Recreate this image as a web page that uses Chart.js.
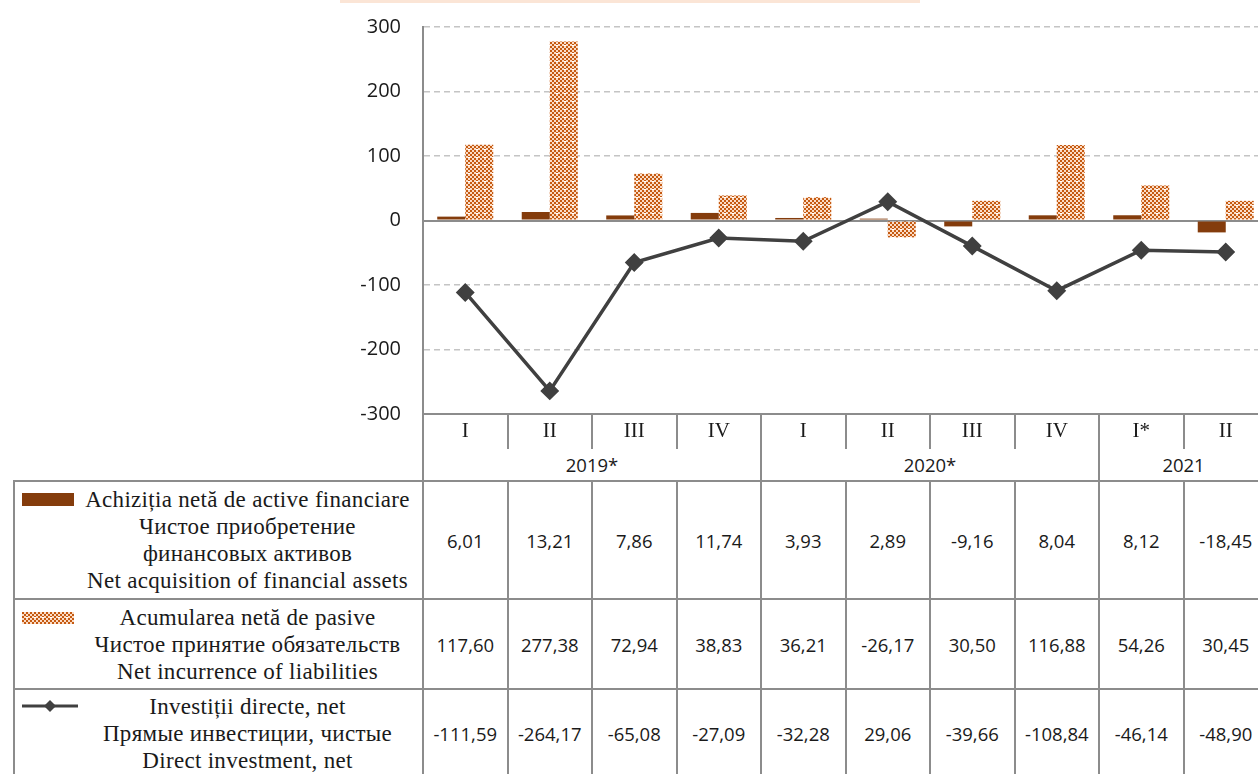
<!DOCTYPE html>
<html>
<head>
<meta charset="utf-8">
<script src="https://cdn.jsdelivr.net/npm/chart.js@4.4.0/dist/chart.umd.min.js"></script>
<style>
  body { margin: 0; width: 1258px; height: 774px; overflow: hidden; position: relative; background: #fff; }
  #band { position: absolute; left: 340px; top: 0; width: 580px; height: 3px; background: #fbe5d6; }
  #chart { position: absolute; left: 0; top: 0; }
  #dataTable { position: absolute; left: 13px; top: 449px; border-collapse: collapse; table-layout: fixed;
    font-family: "Open Sans", sans-serif; font-size: 18.5px; color: #1a1a1a; }
  #dataTable td { border: 2px solid #8c8c8c; text-align: center; vertical-align: middle; padding: 0; white-space: nowrap; }
  #dataTable tr.years td { border-top: none; height: 31px; font-size: 18.5px; }
  #dataTable tr.years td.blank { border: none; border-right: 2px solid #8c8c8c; }
  #dataTable td.name { position: relative; font-family: "Liberation Serif", serif; font-size: 23px; line-height: 27px; letter-spacing: 0.3px; }
  #dataTable td.name .txt { padding: 0 4px 0 62px; }
  #dataTable td.name .sw { position: absolute; left: 7px; }
</style>
</head>
<body>
<div id="band"></div>
<canvas id="chart" width="1268" height="449"></canvas>
<table id="dataTable"></table>
<script>
// --- Data ---
const quarters = ["I", "II", "III", "IV", "I", "II", "III", "IV", "I*", "II"];
const years = ["2019*", "2020*", "2021"];
const yearSpans = [4, 4, 2];
const acquisition = [6.01, 13.21, 7.86, 11.74, 3.93, 2.89, -9.16, 8.04, 8.12, -18.45];
const liabilities = [117.60, 277.38, 72.94, 38.83, 36.21, -26.17, 30.50, 116.88, 54.26, 30.45];
const directInvestment = [-111.59, -264.17, -65.08, -27.09, -32.28, 29.06, -39.66, -108.84, -46.14, -48.90];
const acquisitionName = ["Achiziția netă de active financiare", "Чистое приобретение", "финансовых активов", "Net acquisition of financial assets"];
const liabilitiesName = ["Acumularea netă de pasive", "Чистое принятие обязательств", "Net incurrence of liabilities"];
const investmentName = ["Investiții directe, net", "Прямые инвестиции, чистые", "Direct investment, net"];
const yTicks = [-300, -200, -100, 0, 100, 200, 300];

const DARK = "#843c0c";
const LINE = "#404040";
const AXIS = "#8c8c8c";

// --- Checker pattern for liabilities ---
function makePattern(ctx) {
  const tile = document.createElement("canvas");
  tile.width = 8;
  tile.height = 8;
  const g = tile.getContext("2d");
  g.fillStyle = "#fbdcc6";
  g.fillRect(0, 0, 8, 8);
  g.fillStyle = "#c55a11";
  for (let y = 0; y < 8; y += 2) {
    for (let x = 0; x < 8; x += 2) {
      if (((x + y) / 2) % 2 === 0) g.fillRect(x, y, 2, 2);
    }
  }
  g.fillStyle = "#ffffff";
  g.fillRect(4, 5, 2, 1);
  return ctx.createPattern(tile, "repeat");
}

const ctx = document.getElementById("chart").getContext("2d");
const pattern = makePattern(ctx);

const chart = new Chart(ctx, {
  data: {
    labels: quarters,
    datasets: [
      {
        type: "line",
        label: investmentName[2],
        data: directInvestment,
        borderColor: LINE,
        borderWidth: 3.5,
        pointStyle: "rectRot",
        pointRadius: 7,
        pointBackgroundColor: LINE,
        pointBorderColor: LINE,
        tension: 0,
        order: 0,
      },
      {
        type: "bar",
        label: acquisitionName[3],
        data: acquisition,
        backgroundColor: DARK,
        categoryPercentage: 0.663,
        barPercentage: 1,
        order: 1,
      },
      {
        type: "bar",
        label: liabilitiesName[2],
        data: liabilities,
        backgroundColor: pattern,
        categoryPercentage: 0.663,
        barPercentage: 1,
        order: 1,
      },
    ],
  },
  options: {
    responsive: false,
    animation: false,
    layout: { autoPadding: false, padding: { top: 27, left: 0, right: 0, bottom: 0 } },
    plugins: { legend: { display: false }, tooltip: { enabled: false } },
    scales: {
      x: {
        type: "category",
        offset: true,
        grid: { drawOnChartArea: false, drawTicks: true, tickLength: 35, color: AXIS, lineWidth: 2 },
        border: { display: true, color: AXIS, width: 2 },
        ticks: {
          font: { family: "Liberation Serif", size: 21 },
          color: "#1a1a1a",
          padding: -30,
          maxRotation: 0,
          autoSkip: false,
        },
        afterFit: (s) => { s.height = 35; },
      },
      y: {
        min: yTicks[0],
        max: yTicks[yTicks.length - 1],
        afterBuildTicks: (s) => { s.ticks = yTicks.map((v) => ({ value: v })); },
        grid: {
          drawTicks: false,
          color: (c) => (c.tick && c.tick.value === 0 ? AXIS : "#c4c4c4"),
          lineWidth: (c) => (c.tick && c.tick.value === 0 ? 2 : 1.5),
        },
        border: {
          display: true,
          color: AXIS,
          width: 2,
          dash: (c) => (c.tick && c.tick.value !== 0 ? [6, 4] : []),
        },
        ticks: {
          font: { family: "Open Sans", size: 20 },
          color: "#1a1a1a",
          padding: 22,
        },
        afterFit: (s) => {
          s.width = 423;
          s.paddingTop = 12;
          s.paddingBottom = 12;
        },
      },
    },
  },
});

// --- Data table below the chart, aligned to the x scale ---
function fmt(v) {
  return v.toFixed(2).replace(".", ",");
}

function swatch(kind) {
  const c = document.createElement("canvas");
  c.className = "sw";
  if (kind === "dark") {
    c.width = 52; c.height = 13;
    const g = c.getContext("2d");
    g.fillStyle = DARK;
    g.fillRect(0, 0, 52, 13);
  } else if (kind === "pattern") {
    c.width = 52; c.height = 12;
    const g = c.getContext("2d");
    g.fillStyle = makePattern(g);
    g.fillRect(0, 0, 52, 12);
  } else {
    c.width = 56; c.height = 14;
    const g = c.getContext("2d");
    g.strokeStyle = LINE;
    g.lineWidth = 3;
    g.beginPath();
    g.moveTo(0, 7); g.lineTo(56, 7);
    g.stroke();
    g.fillStyle = LINE;
    g.beginPath();
    g.moveTo(28, 1); g.lineTo(34, 7); g.lineTo(28, 13); g.lineTo(22, 7);
    g.closePath();
    g.fill();
  }
  return c;
}

function buildTable() {
  const x = chart.scales.x;
  const colW = (x.right - x.left) / quarters.length;
  const table = document.getElementById("dataTable");
  const cg = document.createElement("colgroup");
  const first = document.createElement("col");
  first.style.width = (x.left - 14) + "px";
  cg.appendChild(first);
  quarters.forEach(() => {
    const col = document.createElement("col");
    col.style.width = colW + "px";
    cg.appendChild(col);
  });
  table.appendChild(cg);
  table.style.width = (x.right - 14) + "px";

  const yr = document.createElement("tr");
  yr.className = "years";
  const blank = document.createElement("td");
  blank.className = "blank";
  yr.appendChild(blank);
  years.forEach((y, i) => {
    const td = document.createElement("td");
    td.colSpan = yearSpans[i];
    td.textContent = y;
    yr.appendChild(td);
  });
  table.appendChild(yr);

  const rows = [
    { name: acquisitionName, values: acquisition, kind: "dark", h: 116, swTop: 7 },
    { name: liabilitiesName, values: liabilities, kind: "pattern", h: 88, swTop: 8 },
    { name: investmentName, values: directInvestment, kind: "line", h: 86, swTop: 6 },
  ];
  rows.forEach((r) => {
    const tr = document.createElement("tr");
    const nameTd = document.createElement("td");
    nameTd.className = "name";
    nameTd.style.height = r.h + "px";
    const wrap = document.createElement("div");
    wrap.style.position = "relative";
    const sw = swatch(r.kind);
    sw.style.top = r.swTop + "px";
    wrap.appendChild(sw);
    const txt = document.createElement("div");
    txt.className = "txt";
    r.name.forEach((line) => {
      const d = document.createElement("div");
      d.textContent = line;
      txt.appendChild(d);
    });
    wrap.appendChild(txt);
    nameTd.appendChild(wrap);
    tr.appendChild(nameTd);
    r.values.forEach((v) => {
      const td = document.createElement("td");
      td.textContent = fmt(v);
      tr.appendChild(td);
    });
    table.appendChild(tr);
  });
}

buildTable();
</script>
</body>
</html>
